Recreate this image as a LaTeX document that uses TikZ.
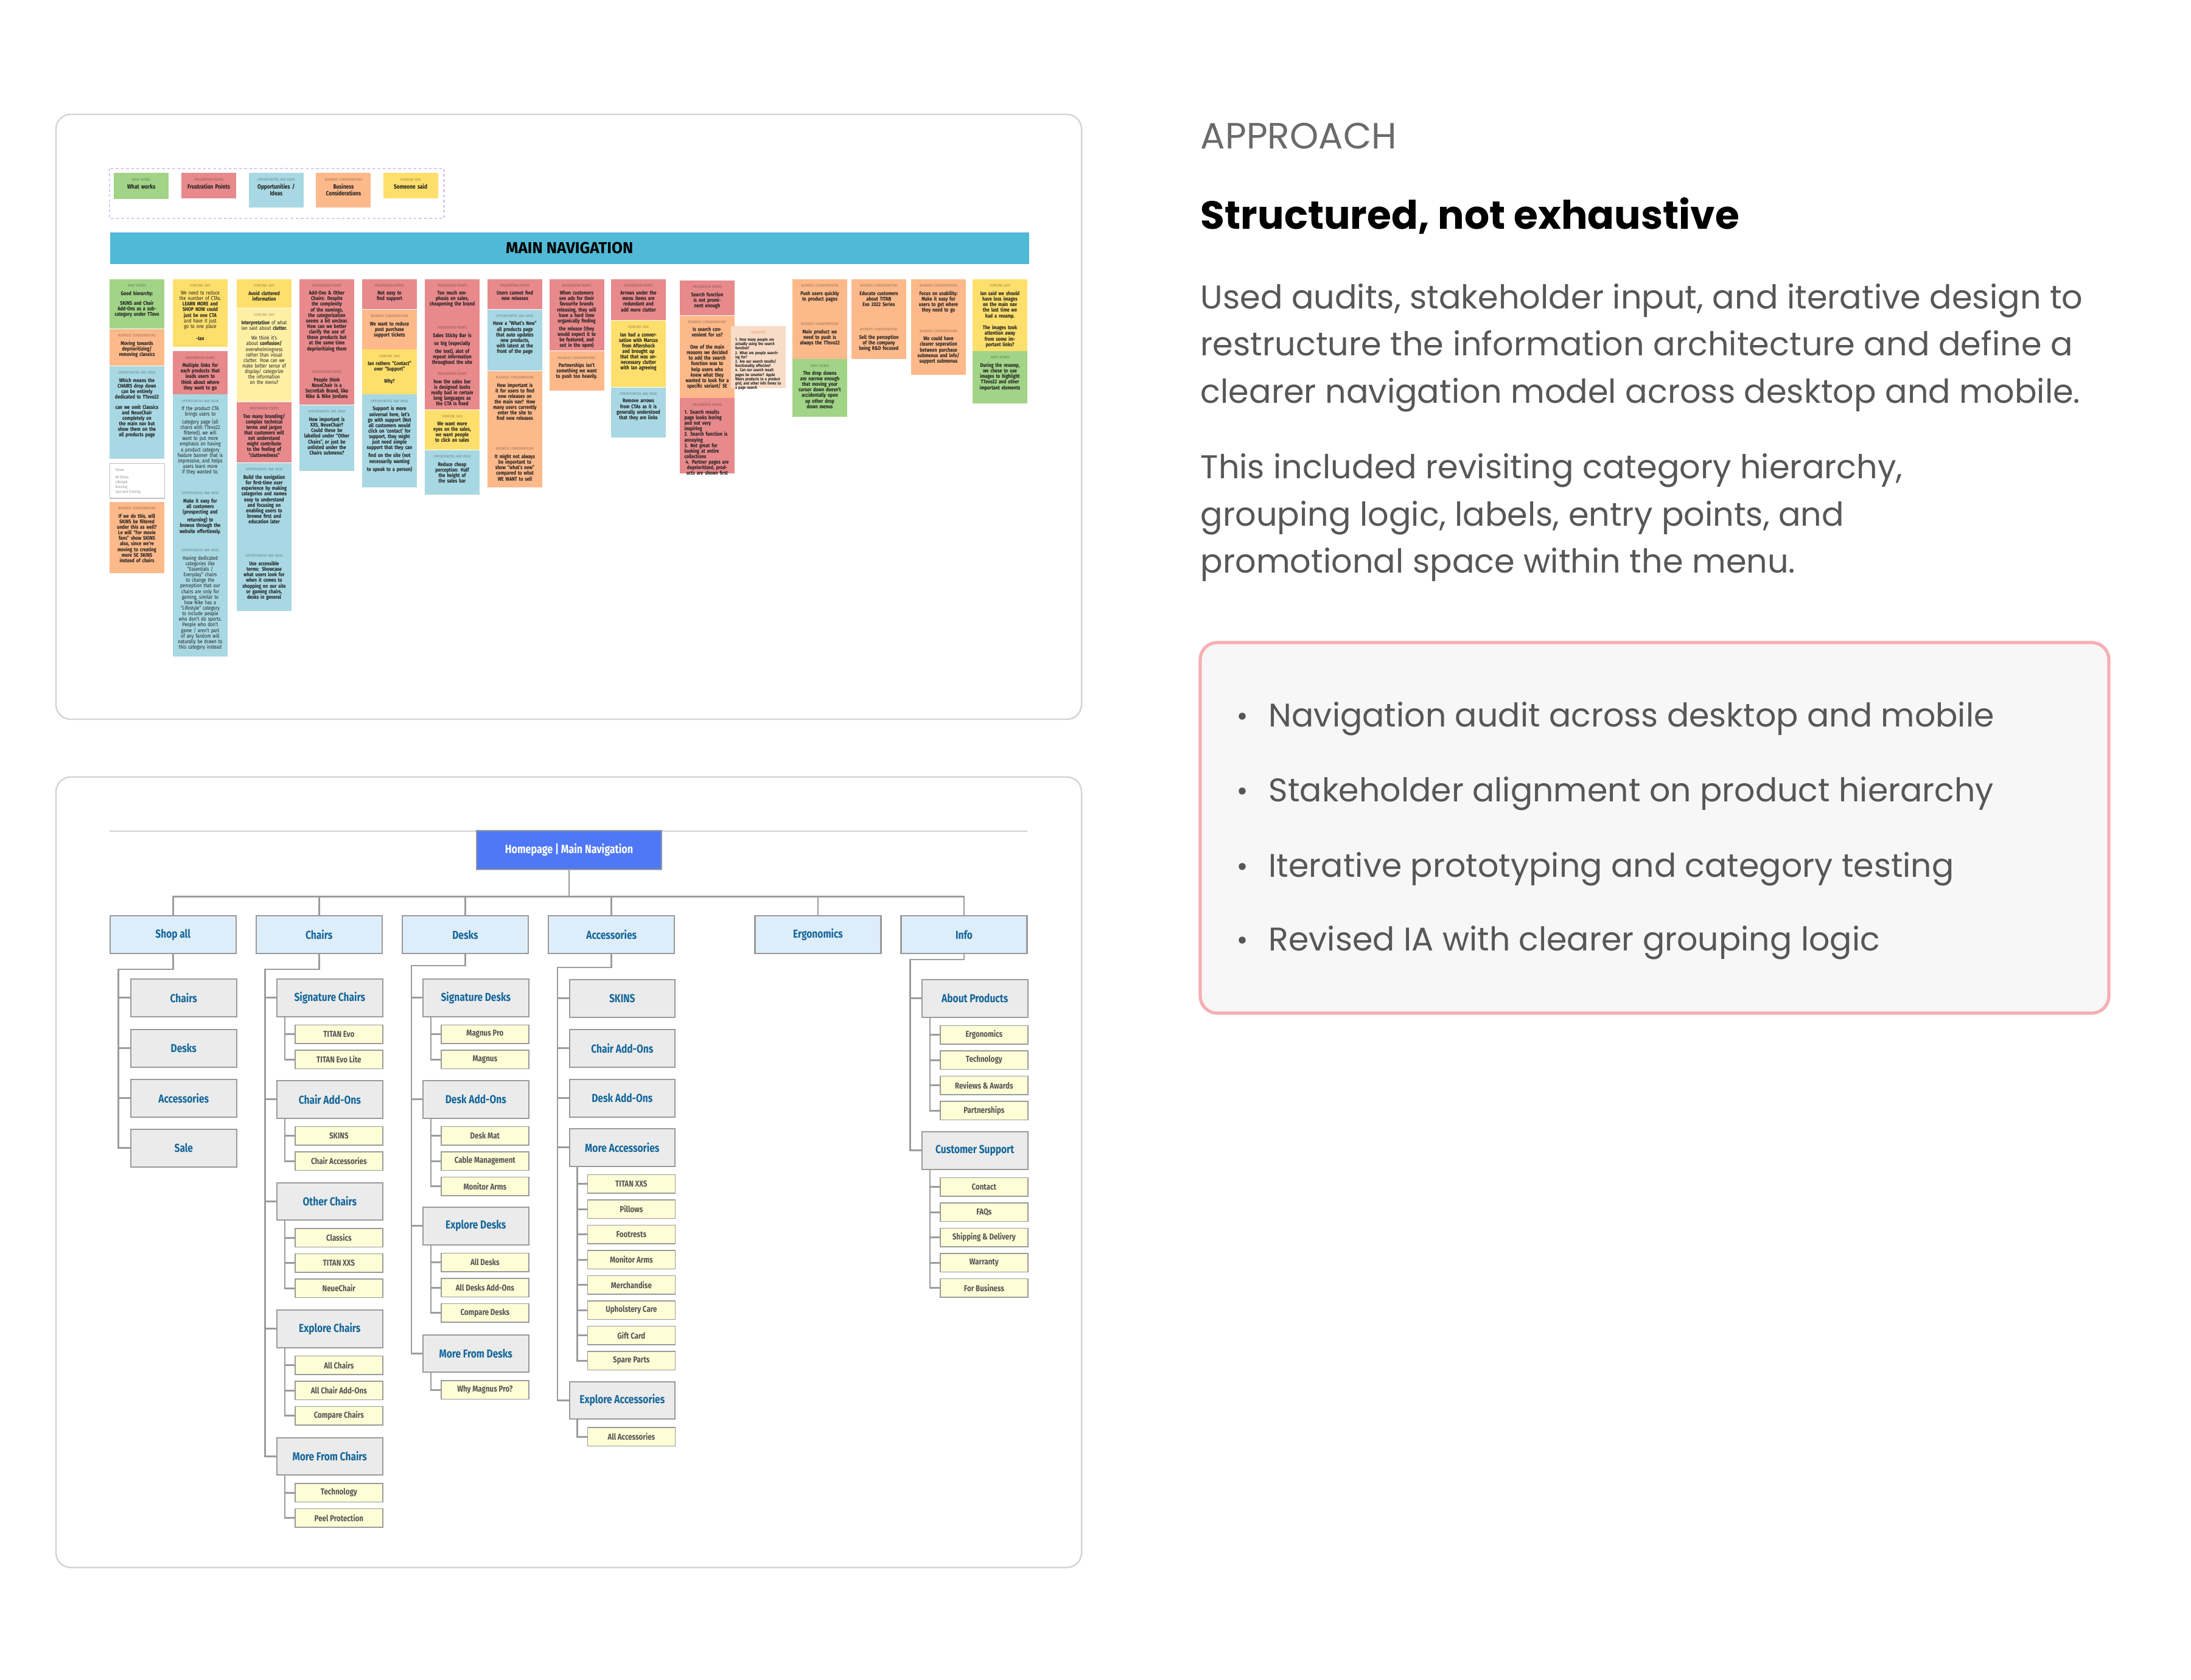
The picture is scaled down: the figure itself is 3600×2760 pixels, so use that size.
\documentclass[tikz,border=0pt]{standalone}
\usepackage{fontspec}
\setmainfont{Fira Sans}
\newfontfamily\pop{Poppins}
\newfontfamily\treefont[FakeStretch=0.82]{Fira Sans}
\usetikzlibrary{calc}
\definecolor{cgreen}{HTML}{A1D487}
\definecolor{cred}{HTML}{E8898C}
\definecolor{cblue}{HTML}{A8D8E3}
\definecolor{corange}{HTML}{FDB98A}
\definecolor{cyellow}{HTML}{FEDF6C}
\definecolor{clyellow}{HTML}{FFF0A6}
\definecolor{cthought}{HTML}{F7DCC8}
\definecolor{navbar}{HTML}{50BAD6}
\definecolor{lavender}{HTML}{D9C6F7}
\definecolor{panelb}{HTML}{D4D4D4}
\definecolor{lineg}{HTML}{9C9C9C}
\definecolor{boxg}{HTML}{9A9A9A}
\definecolor{lonefill}{HTML}{DEEDFA}
\definecolor{ltwofill}{HTML}{EBEBEB}
\definecolor{leaffill}{HTML}{FDFDD6}
\definecolor{navtxt}{HTML}{15679B}
\definecolor{leaftxt}{HTML}{555555}
\definecolor{hpblue}{HTML}{4F78F7}
\definecolor{bodyg}{HTML}{575757}
\definecolor{capg}{HTML}{6A6A6A}
\definecolor{boxpink}{HTML}{F5AFB4}
\definecolor{boxfill}{HTML}{F7F7F7}
\definecolor{topline}{HTML}{D0D0D0}
\definecolor{thoughtorange}{HTML}{F0964A}

\tikzset{
  panel/.style={draw=panelb, line width=0.7pt, fill=white, rounded corners=2.4mm},
  stk/.style={draw=none, inner sep=0, outer sep=0, minimum width=9mm},
  stkhd/.style={font=\treefont\fontsize{1.7}{1.95}\selectfont, text width=7.6mm, align=center, inner sep=0},
  stkbd/.style={font=\treefont\bfseries\fontsize{2.5}{2.6}\selectfont, text width=7.5mm, align=center, inner sep=0, text=black!88},
  lgbd/.style={font=\treefont\bfseries\fontsize{2.9}{3.1}\selectfont, text width=8mm, align=center, inner sep=0, text=black!88},
  conn/.style={draw=lineg, line width=0.8pt},
  hpbox/.style={fill=hpblue, draw=boxg, line width=0.5pt, minimum width=30.4mm, minimum height=6.4mm, inner sep=0, text=white, font=\treefont\bfseries\fontsize{5.6}{6}\selectfont},
  lone/.style={draw=boxg, line width=0.6pt, fill=lonefill, minimum width=20.7mm, minimum height=6.2mm, inner sep=0, font=\treefont\bfseries\fontsize{5.4}{6}\selectfont, text=navtxt},
  ltwo/.style={draw=boxg, line width=0.6pt, fill=ltwofill, minimum width=17.35mm, minimum height=6.15mm, inner sep=0, font=\treefont\bfseries\fontsize{5.4}{6}\selectfont, text=navtxt},
  leaf/.style={draw=boxg, line width=0.5pt, fill=leaffill, minimum width=14.4mm, minimum height=3.05mm, inner sep=0, font=\treefont\bfseries\fontsize{4}{4.5}\selectfont, text=leaftxt},
  body/.style={anchor=base west, inner sep=0, font=\pop\fontsize{15.4}{18}\selectfont, text=bodyg},
  bul/.style={anchor=base west, inner sep=0, font=\pop\fontsize{15.3}{18}\selectfont, text=bodyg},
  dot/.style={circle, fill=bodyg, inner sep=0, minimum size=1.15mm},
}

% sticky: name, x, ytop, ybot, colour, header, body
\newcommand\stk[7]{%
  \node[stk, fill=#5, minimum height={(#4-#3)*0.1mm}, anchor=north west] (#1) at (#2,#3) {};
  \node[stkhd, text=#5!62!black, anchor=north] (#1h) at ($(#1.north)+(0,8)$) {#6};
  \node[stkbd, anchor=north] (#1b) at ($(#1h.south)+(0,5)$) {#7};}

% legend sticky: name, x, ytop, ybot, colour, header, title
\newcommand\lgd[7]{%
  \node[stk, fill=#5, minimum height={(#4-#3)*0.1mm}, anchor=north west] (#1) at (#2,#3) {};
  \node[stkhd, text=#5!62!black, anchor=north] (#1h) at ($(#1.north)+(0,8)$) {#6};
  \node[lgbd, anchor=north] (#1b) at ($(#1h.south)+(0,4)$) {#7};}

% group: name, trunk coordinate, x, y, label, leaves
\newcommand\grp[6]{%
  \node[ltwo, anchor=north west] (#1) at (#3,#4) {#5};
  \draw[conn] (#2 |- #1.west) -- (#1.west);
  \ifx\relax#6\relax\else
  \foreach \lab [count=\i] in {#6} {
    \node[leaf, anchor=north west] (#1-\i) at ({#3+30},{#4+75.5+41.5*(\i-1)}) {\lab};
    \draw[conn] ($(#1.south west)+(14,0)$) |- (#1-\i.west);
  }\fi}

\begin{document}
\begin{tikzpicture}[x=0.1mm,y=-0.1mm]
\path[use as bounding box, fill=white] (0,0) rectangle (3600,2760);

% ---------- panels ----------
\draw[panel] (92,188) rectangle (1777,1182);
\draw[panel] (92,1277) rectangle (1777,2576);

% ---------- legend ----------
\draw[lavender, line width=0.6pt, dash pattern=on 1.2pt off 1.2pt] (180,277) rectangle (729.5,359);
\lgd{lg1}{187.2}{284.3}{326.7}{cgreen}{WHAT WORKS}{What works}
\lgd{lg2}{298}{284.3}{326}{cred}{FRUSTRATION POINTS}{Frustration Points}
\lgd{lg3}{408.8}{284.3}{341}{cblue}{OPPORTUNITIES AND IDEAS}{Opportunities /\\Ideas}
\lgd{lg4}{519.4}{284.3}{341}{corange}{BUSINESS CONSIDERATIONS}{Business\\Considerations}
\lgd{lg5}{629.6}{284.3}{326}{cyellow}{SOMEONE SAID}{Someone said}

% ---------- main navigation bar ----------
\node[fill=navbar, minimum width=151mm, minimum height=5.25mm, inner sep=0, anchor=north west, font=\bfseries\fontsize{7.4}{8}\selectfont] (mainnav) at (180,381) {MAIN NAVIGATION};

% ---------- stickies ----------
% col 1
\stk{a1}{180}{458.6}{539.6}{cgreen}{WHAT WORKS}{Good hierarchy:\\[2pt]SKINS and Chair Add-Ons as a sub-category under TTevo}
\stk{a2}{180}{540.8}{601.3}{corange}{BUSINESS CONSIDERATIONS}{Moving towards deprioritizing/ removing classics}
\stk{a3}{180}{602}{753.6}{cblue}{OPPORTUNITIES AND IDEAS}{Which means the CHAIRS drop down can be entirely dedicated to TTevo22\\[2pt]can we omit Classics and NeueChair completely on the main nav but show them on the all products page}
\node[draw=black!25, fill=white, line width=0.4pt, minimum width=9mm, minimum height=5.74mm, inner sep=0, anchor=north west] (a4) at (180,761) {};
\node[anchor=north west, inner sep=0, align=left, text=black!45, font=\treefont\fontsize{1.8}{2.3}\selectfont] (a4t) at ($(a4.north west)+(9,8)$) {Shoes\\[1.2pt]All Shoes\\Lifestyle\\Running\\Gym and Training};
\stk{a5}{180}{824.7}{942.2}{corange}{BUSINESS CONSIDERATIONS}{If we do this, will SKINS be filtered under this as well? Le will “For movie fans” show SKINS also, since we’re moving to creating more SE SKINS instead of chairs}
% col 2
\stk{b1}{284}{458.6}{569.7}{cyellow}{SOMEONE SAID}{\mdseries We need to reduce the number of CTAs. \bfseries LEARN MORE and SHOP NOW could just be one CTA \mdseries and have it just go to one place\\[3pt]\bfseries -Ian}
\stk{b2}{284}{577.2}{647.6}{cred}{FRUSTRATION POINTS}{Multiple links for each products that leads users to think about where they want to go}
\stk{b3}{284}{648.4}{800}{cblue}{OPPORTUNITIES AND IDEAS}{\mdseries If the product CTA brings users to category page (all chairs with TTevo22 filtered), we will want to put more emphasis on having a product category feature banner that is impressive, and helps users learn more if they wanted to.}
\stk{b4}{284}{800}{894}{cblue}{OPPORTUNITIES AND IDEAS}{Make it easy for all customers (prospecting and returning) to browse through the website effortlessly.}
\stk{b5}{284}{894}{1079}{cblue}{OPPORTUNITIES AND IDEAS}{\mdseries Having dedicated categories like “Essentials / Everyday” chairs to change the perception that our chairs are only for gaming, similar to how Nike has a “Lifestyle” category to include people who don’t do sports. People who don’t game / aren’t part of any fandom will naturally be drawn to this category instead}
% col 3
\stk{c1}{389}{458.6}{506.4}{cyellow}{SOMEONE SAID}{Avoid cluttered information}
\stk{c2}{389}{507}{659.5}{clyellow}{SOMEONE SAID}{Interpretation \mdseries of what Ian said about \bfseries clutter.\\[2pt]\mdseries We think it’s about \bfseries confusion/ \mdseries overwhelmingness rather than visual clutter. How can we make better sense of display/ categorize the information on the menu?}
\stk{c3}{389}{660.6}{760.3}{cred}{FRUSTRATION POINTS}{Too many branding/ complex technical terms and jargon that customers will not understand might contribute to the feeling of “clutteredness”}
\stk{c4}{389}{761}{903}{cblue}{OPPORTUNITIES AND IDEAS}{Build the navigation for first-time user experience by making categories and names easy to understand and focusing on enabling users to browse first and education later}
\stk{c5}{389}{903}{1003.5}{cblue}{OPPORTUNITIES AND IDEAS}{Use accessible terms: Showcase what users look for when it comes to shopping on our site or gaming chairs, desks in general}
% col 4
\stk{d1}{492}{458.6}{601}{cred}{FRUSTRATION POINTS}{Add-Ons \& Other Chairs: Despite the complexity of the namings, the categorization seems a bit unclear. How can we better clarify the use of these products but at the same time deprioritizing them}
\stk{d2}{492}{601}{665.4}{cred}{FRUSTRATION POINTS}{People think NeueChair is a Secretlab Brand, like Nike \& Nike Jordans}
\stk{d3}{492}{666}{774}{cblue}{OPPORTUNITIES AND IDEAS}{How important is XXS, NeueChair? Could these be labelled under “Other Chairs”, or just be unlisted under the Chairs submenu?}
% col 5
\stk{e1}{595}{458.6}{508.4}{cred}{FRUSTRATION POINTS}{Not easy to find support}
\stk{e2}{595}{509}{573.6}{corange}{BUSINESS CONSIDERATIONS}{We want to reduce post purchase support tickets}
\stk{e3}{595}{574.4}{647.6}{cyellow}{SOMEONE SAID}{Ian rathers “Contact” over “Support”\\[3pt]Why?}
\stk{e4}{595}{648.4}{800.6}{cblue}{OPPORTUNITIES AND IDEAS}{Support is more universal here, let’s go with support (Not all customers would click on ‘contact’ for support, they might just need simple support that they can find on the site (not necessarily wanting to speak to a person)}
% col 6
\stk{f1}{698}{458.6}{528}{cred}{FRUSTRATION POINTS}{Too much emphasis on sales, cheapening the brand}
\stk{f2}{698}{528}{604}{cred}{FRUSTRATION POINTS}{Sales Sticky Bar is so big (especially the text), alot of repeat information throughout the site}
\stk{f3}{698}{604}{673.3}{cred}{FRUSTRATION POINTS}{how the sales bar is designed looks really bad in certain long languages as the CTA is fixed}
\stk{f4}{698}{674}{739.3}{cyellow}{SOMEONE SAID}{We want more eyes on the sales, we want people to click on sales}
\stk{f5}{698}{740}{813.3}{cblue}{OPPORTUNITIES AND IDEAS}{Reduce cheap perception: Half the height of the sales bar}
% col 7
\stk{g1}{801}{458.6}{508}{cred}{FRUSTRATION POINTS}{Users cannot find new releases}
\stk{g2}{801}{508.8}{608.8}{cblue}{OPPORTUNITIES AND IDEAS}{Have a “What’s New” all products page that auto updates new products, with latest at the front of the page}
\stk{g3}{801}{609.6}{727}{corange}{BUSINESS CONSIDERATIONS}{How important is it for users to find new releases on the main nav? How many users currently enter the site to find new releases}
\stk{g4}{801}{727}{800.6}{corange}{BUSINESS CONSIDERATIONS}{It might not always be important to show “what’s new” compared to what WE WANT to sell}
% col 8
\stk{h1}{902.5}{458.6}{576.4}{cred}{FRUSTRATION POINTS}{When customers see ads for their favourite brands releasing, they will have a hard time organically finding the release (they would expect it to be featured, and out in the open)}
\stk{h2}{902.5}{577.2}{642}{corange}{BUSINESS CONSIDERATIONS}{Partnerships isn’t something we want to push too heavily.}
% col 9
\stk{i1}{1004}{458.6}{526.2}{cred}{FRUSTRATION POINTS}{Arrows under the menu items are redundant and add more clutter}
\stk{i2}{1004}{527}{635.7}{cyellow}{SOMEONE SAID}{Ian had a conversation with Marcus from Aftershock and brought up that that was unnecessary clutter with Ian agreeing}
\stk{i3}{1004}{636.5}{718.8}{cblue}{OPPORTUNITIES AND IDEAS}{Remove arrows from CTAs as it is generally understood that they are links}
% col 10
\stk{j1}{1117}{461}{518}{cred}{FRUSTRATION POINTS}{Search function is not prominent enough}
\stk{j2}{1117}{518.7}{653.5}{corange}{BUSINESS CONSIDERATIONS}{Is search convenient for us?\\[3pt]One of the main reasons we decided to add the search function was to help users who knew what they wanted to look for a specific variant/ SE}
\stk{j3}{1117}{654.3}{778}{cred}{FRUSTRATION POINTS}{\raggedright 1. Search results page looks boring and not very inspiring\\2. Search function is annoying\\3. Not great for looking at entire collections\\4. Partner pages are deprioritized, products are shown first}
% thoughts
\node[stk, fill=cthought, minimum height=10.2mm, anchor=north west] (t1) at (1201,536) {};
\node[stkhd, text=thoughtorange, anchor=north] (t1h) at ($(t1.north)+(0,8)$) {THOUGHTS};
\node[stkbd, font=\treefont\bfseries\fontsize{1.9}{2.05}\selectfont, align=left, text width=7.6mm, anchor=north] (t1b) at ($(t1h.south)+(0,5)$) {1. How many people are actually using the search function?\\2. What are people searching for?\\3. Are our search results/ functionality effective?\\4. Can our search result pages be smarter? Apple filters products to a product grid, and other info forms to a page search};
% col 11
\stk{k1}{1302}{459}{522}{corange}{BUSINESS CONSIDERATIONS}{Push users quickly to product pages}
\stk{k2}{1302}{522}{590.3}{corange}{BUSINESS CONSIDERATIONS}{Main product we need to push is always the TTevo22}
\stk{k3}{1302}{590.3}{685}{cgreen}{WHAT WORKS}{The drop downs are narrow enough that moving your cursor down doesn’t accidentally open up other drop down menus}
% col 12
\stk{l1}{1399}{459}{531}{corange}{BUSINESS CONSIDERATIONS}{Educate customers about TITAN Evo 2022 Series}
\stk{l2}{1399}{531}{590.3}{corange}{BUSINESS CONSIDERATIONS}{Sell the perception of the company being R\&D focused}
% col 13
\stk{m1}{1497}{459}{533.7}{corange}{BUSINESS CONSIDERATIONS}{Focus on usability: Make it easy for users to get where they need to go}
\stk{m2}{1497}{533.7}{616.4}{corange}{BUSINESS CONSIDERATIONS}{We could have clearer seperation between purchase submenus and info/ support submenus}
% col 14
\stk{n1}{1598}{459}{577}{cyellow}{SOMEONE SAID}{Ian said we should have less images on the main nav the last time we had a revamp.\\[3pt]The images took attention away from some important links?}
\stk{n2}{1598}{577}{663.4}{cgreen}{WHAT WORKS}{During the revamp, we chose to use images to highlight TTevo22 and other important elements}

% ---------- sitemap tree ----------
\draw[topline, line width=0.5pt] (180,1366) -- (1688,1366);
\node[hpbox] (hp) at (935,1397) {Homepage | Main Navigation};
\node[lone] (shop) at (284.2,1536) {Shop all};
\node[lone] (chairs) at (524.2,1536) {Chairs};
\node[lone] (desks) at (764.4,1536) {Desks};
\node[lone] (acc) at (1004.8,1536) {Accessories};
\node[lone] (ergo) at (1344,1536) {Ergonomics};
\node[lone] (info) at (1584,1536) {Info};
\coordinate (bus) at (935,1473.5);
\draw[conn] (hp.south) -- (bus);
\foreach \n in {shop,chairs,desks,acc,ergo,info} \draw[conn] (bus) -| (\n.north);

\coordinate (shopE) at (194.6,1593);
\coordinate (chE) at (435.5,1593);
\coordinate (deE) at (676,1587);
\coordinate (acE) at (916,1590);
\coordinate (inE) at (1495.5,1577);

\grp{sa1}{shopE}{214}{1608}{Chairs}{}
\grp{sa2}{shopE}{214}{1691}{Desks}{}
\grp{sa3}{shopE}{214}{1773}{Accessories}{}
\grp{sa4}{shopE}{214}{1855}{Sale}{}
\draw[conn] (shop.south) |- (shopE) |- (sa4.west);

\grp{ch1}{chE}{454}{1608}{Signature Chairs}{TITAN Evo,TITAN Evo Lite}
\grp{ch2}{chE}{454}{1775}{Chair Add-Ons}{SKINS,Chair Accessories}
\grp{ch3}{chE}{454}{1942.5}{Other Chairs}{Classics,TITAN XXS,NeueChair}
\grp{ch4}{chE}{454}{2152}{Explore Chairs}{All Chairs,All Chair Add-Ons,Compare Chairs}
\grp{ch5}{chE}{454}{2361.5}{More From Chairs}{Technology,Peel Protection}
\draw[conn] (chairs.south) |- (chE) |- (ch5.west);

\grp{de1}{deE}{694}{1608}{Signature Desks}{Magnus Pro,Magnus}
\grp{de2}{deE}{694}{1775}{Desk Add-Ons}{Desk Mat,Cable Management,Monitor Arms}
\grp{de3}{deE}{694}{1983}{Explore Desks}{All Desks,All Desks Add-Ons,Compare Desks}
\grp{de4}{deE}{694}{2192.5}{More From Desks}{Why Magnus Pro?}
\draw[conn] (desks.south) |- (deE) |- (de4.west);

\grp{ac1}{acE}{934.5}{1609}{SKINS}{}
\grp{ac2}{acE}{934.5}{1691}{Chair Add-Ons}{}
\grp{ac3}{acE}{934.5}{1773}{Desk Add-Ons}{}
\grp{ac4}{acE}{934.5}{1854}{More Accessories}{TITAN XXS,Pillows,Footrests,Monitor Arms,Merchandise,Upholstery Care,Gift Card,Spare Parts}
\grp{ac5}{acE}{934.5}{2269.5}{Explore Accessories}{All Accessories}
\draw[conn] (acc.south) |- (acE) |- (ac5.west);

\grp{in1}{inE}{1514}{1609}{About Products}{Ergonomics,Technology,Reviews \& Awards,Partnerships}
\grp{in2}{inE}{1514}{1859}{Customer Support}{Contact,FAQs,Shipping \& Delivery,Warranty,For Business}
\draw[conn] (info.south) |- (inE) |- (in2.west);

% ---------- right column ----------
\node[anchor=base west, inner sep=0, font=\pop\fontsize{17.1}{20}\selectfont, text=capg] (appr) at (1972,245) {APPROACH};
\node[anchor=base west, inner sep=0, font=\pop\bfseries\fontsize{18.4}{22}\selectfont, text=black] (ttl) at (1972,376) {Structured, not exhaustive};
\node[body] (p1) at (1972,507) {Used audits, stakeholder input, and iterative design to};
\node[body] (p2) at (1972,584) {restructure the information architecture and define a};
\node[body] (p3) at (1972,662) {clearer navigation model across desktop and mobile.};
\node[body] (q1) at (1972,786) {This included revisiting category hierarchy,};
\node[body] (q2) at (1972,864) {grouping logic, labels, entry points, and};
\node[body] (q3) at (1972,941) {promotional space within the menu.};

\draw[draw=boxpink, fill=boxfill, line width=1.5pt, rounded corners=2.8mm] (1972,1056) rectangle (3465,1665);
\node[dot] (d1) at (2041,1177) {};
\node[bul] (r1) at (2084,1194) {Navigation audit across desktop and mobile};
\node[dot] (d2) at (2041,1300) {};
\node[bul] (r2) at (2084,1317) {Stakeholder alignment on product hierarchy};
\node[dot] (d3) at (2041,1424) {};
\node[bul] (r3) at (2084,1441) {Iterative prototyping and category testing};
\node[dot] (d4) at (2041,1545) {};
\node[bul] (r4) at (2084,1562) {Revised IA with clearer grouping logic};
\end{tikzpicture}
\end{document}
